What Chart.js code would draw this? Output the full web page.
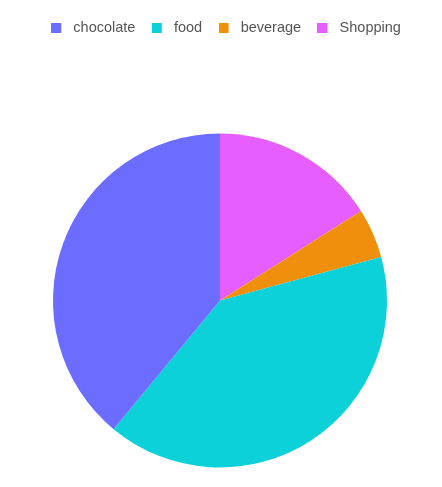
<!DOCTYPE html>
<html>
<head>
<meta charset="utf-8">
<script src="https://cdn.jsdelivr.net/npm/chart.js@4.4.1/dist/chart.umd.min.js"></script>
<style>
  html, body { margin: 0; padding: 0; background: #ffffff; }
  #wrap { position: relative; width: 442px; height: 487px; }
</style>
</head>
<body>
<div id="wrap"><canvas id="c"></canvas></div>
<script>
// Categories in legend order
const categories = ['chocolate', 'food', 'beverage', 'Shopping'];
// Share of each category (percent)
const values = [39, 40.2, 4.8, 16];
// Slice colours
const colors = ['#6c6cff', '#0dd1d9', '#f08f0c', '#e65eff'];

// The reference runs the slices counter-clockwise from 12 o'clock,
// so feed Chart.js the reversed order and reverse the legend back.
const drawLabels = categories.slice().reverse();
const drawValues = values.slice().reverse();
const drawColors = colors.slice().reverse();

const FONT_SIZE = 14.5;
const SLOT = 22 - FONT_SIZE / 2;

function markerCanvas(color) {
  const cv = document.createElement('canvas');
  cv.width = 15; cv.height = 10;
  const g = cv.getContext('2d');
  g.fillStyle = color;
  g.fillRect(0, 0, 10, 10);
  return cv;
}

const layoutTweak = {
  id: 'layoutTweak',
  patch(chart) {
    const lg = chart.legend;
    if (!lg || lg._patched) return;
    lg._patched = true;
    const fit = lg.fit;
    lg.fit = function () { fit.call(this); this.height = 109.5; };
    const draw = lg.draw;
    lg.draw = function (a) {
      const ctx = this.ctx;
      ctx.save(); ctx.translate(6.125, 0);
      draw.call(this, a);
      ctx.restore();
    };
  },
  beforeInit(chart) { this.patch(chart); },
  beforeLayout(chart) { this.patch(chart); }
};

new Chart(document.getElementById('c'), {
  type: 'pie',
  data: {
    labels: drawLabels,
    datasets: [{
      data: drawValues,
      backgroundColor: drawColors,
      borderWidth: 0,
      hoverOffset: 0,
      radius: 167
    }]
  },
  options: {
    responsive: true,
    maintainAspectRatio: false,
    animation: false,
    layout: { padding: { top: 4.5, left: 0, right: 2, bottom: 0 } },
    plugins: {
      tooltip: { enabled: false },
      legend: {
        position: 'top',
        reverse: true,
        labels: {
          font: { family: '"Liberation Sans", Arial, sans-serif', size: FONT_SIZE },
          color: '#555555',
          padding: 16.5,
          usePointStyle: true,
          pointStyleWidth: SLOT,
          boxHeight: 10,
          generateLabels(chart) {
            const ds = chart.data.datasets[0];
            return chart.data.labels.map((t, i) => ({
              text: t,
              fillStyle: ds.backgroundColor[i],
              strokeStyle: ds.backgroundColor[i],
              lineWidth: 0,
              fontColor: '#555555',
              pointStyle: markerCanvas(ds.backgroundColor[i]),
              hidden: !chart.getDataVisibility(i),
              index: i
            }));
          }
        }
      }
    }
  },
  plugins: [layoutTweak]
});
</script>
</body>
</html>
